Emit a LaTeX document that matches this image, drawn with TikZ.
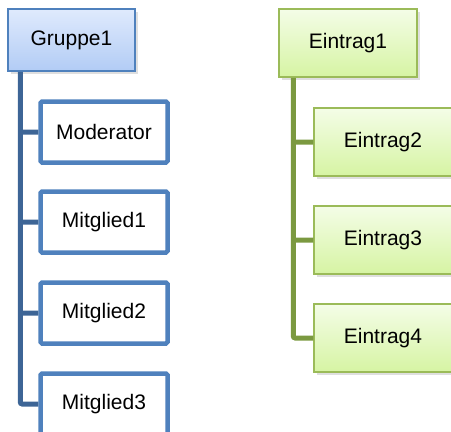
\documentclass[tikz,border=0pt]{standalone}
\usepackage{fontspec}
\setmainfont{Liberation Sans}
\usepackage{tikz}
\usetikzlibrary{positioning, shadows}
\definecolor{grpline}{HTML}{4F81BD}
\definecolor{grpstem}{HTML}{3D6596}
\definecolor{grptop}{HTML}{DFEAFD}
\definecolor{grpbot}{HTML}{B2CCF5}
\definecolor{entline}{HTML}{9BBB59}
\definecolor{entstem}{HTML}{7B9940}
\definecolor{enttop}{HTML}{F4FDE7}
\definecolor{entbot}{HTML}{D6F4A3}
\tikzset{
    boxtext/.style={font=\fontsize{21}{25}\selectfont, text=black, align=center},
    grphead/.style={boxtext, draw=grpline, line width=1.5pt, top color=grptop, bottom color=grpbot,
        minimum width=127pt, minimum height=62pt,
        drop shadow={shadow xshift=2.5pt, shadow yshift=-2.5pt, opacity=0.25}},
    grpkid/.style={boxtext, draw=grpline, line width=4.5pt, fill=white, rounded corners=1.5pt,
        minimum width=127pt, minimum height=61pt},
    enthead/.style={boxtext, draw=entline, line width=1.5pt, top color=enttop, bottom color=entbot,
        minimum width=138pt, minimum height=68pt,
        drop shadow={shadow xshift=2.5pt, shadow yshift=-2.5pt, opacity=0.25}},
    entkid/.style={enthead},
    grpwire/.style={draw=grpstem, line width=5pt, rounded corners=2pt},
    entwire/.style={draw=entstem, line width=5pt, rounded corners=2pt},
}
\begin{document}
\begin{tikzpicture}[x=1pt, y=-1pt]
    \useasboundingbox (0,0) rectangle (451,432);

    % group with its members
    \node[grphead] (g1) at (71.5,40) {Gruppe1};
    \node[grpkid] (mod) at (104,132) {Moderator};
    \node[grpkid] (m1) at (104,222) {Mitglied1};
    \node[grpkid] (m2) at (104,313) {Mitglied2};
    \node[grpkid] (m3) at (104,404) {Mitglied3};

    % entry list
    \node[enthead] (e1) at (348,43) {Eintrag1};
    \node[entkid] (e2) at (383,142) {Eintrag2};
    \node[entkid] (e3) at (383,240) {Eintrag3};
    \node[entkid] (e4) at (383,338) {Eintrag4};

    \coordinate (gstem) at ([xshift=13pt]g1.south west);
    \coordinate (estem) at ([xshift=15pt]e1.south west);

    \path[grpwire]
        (gstem) |- (mod.west)
        (gstem) |- (m1.west)
        (gstem) |- (m2.west)
        (gstem) |- (m3.west);
    \path[entwire]
        (estem) |- (e2.west)
        (estem) |- (e3.west)
        (estem) |- (e4.west);
\end{tikzpicture}
\end{document}
